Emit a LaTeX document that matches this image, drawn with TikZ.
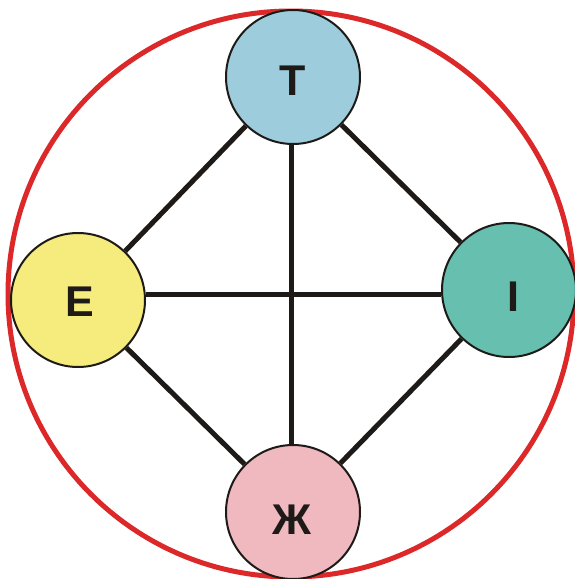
\documentclass[tikz,border=0pt]{standalone}
\usepackage{fontspec}
\setmainfont{Liberation Sans}
\definecolor{cT}{HTML}{9DCDDC}
\definecolor{cE}{HTML}{F5EC7D}
\definecolor{cI}{HTML}{66BFAF}
\definecolor{cZ}{HTML}{F0B9C0}
\definecolor{ringred}{HTML}{DC2828}
\definecolor{ink}{HTML}{1E1A18}
\tikzset{
  ball/.style={circle, draw=ink, line width=2pt, minimum size=134pt, inner sep=0pt},
  lbl/.style={font=\fontsize{43}{43}\selectfont\bfseries, text=ink, inner sep=0pt},
  link/.style={draw=ink, line width=5pt},
  ring/.style={draw=ringred, line width=5pt}
}
\begin{document}
\begin{tikzpicture}[x=1pt,y=-1pt]
\useasboundingbox (0,0) rectangle (575,579);
\node[ring, circle, minimum size=566pt, inner sep=0pt] (R) at (291,294) {};
\coordinate (m) at (0,294);
\coordinate (v) at (291,0);
\node[ball, fill=cT, label={[lbl, yshift=-4pt]center:T}] (T) at (293,77) {};
\node[ball, fill=cE, label={[lbl, yshift=-2pt, xshift=2pt]center:E}] (E) at (78,300) {};
\node[ball, fill=cI, label={[lbl, yshift=-7pt, xshift=4pt]center:I}] (I) at (509,290) {};
\node[ball, fill=cZ, label={[lbl, yshift=-8pt, xshift=-1pt]center:Ж}] (Z) at (293,512) {};
\draw[link] (T) -- (E);
\draw[link] (T) -- (I);
\draw[link] (Z) -- (E);
\draw[link] (Z) -- (I);
\draw[link] (T.south -| v) -- (Z.north -| v);
\draw[link] (E.east |- m) -- (I.west |- m);
\end{tikzpicture}
\end{document}
